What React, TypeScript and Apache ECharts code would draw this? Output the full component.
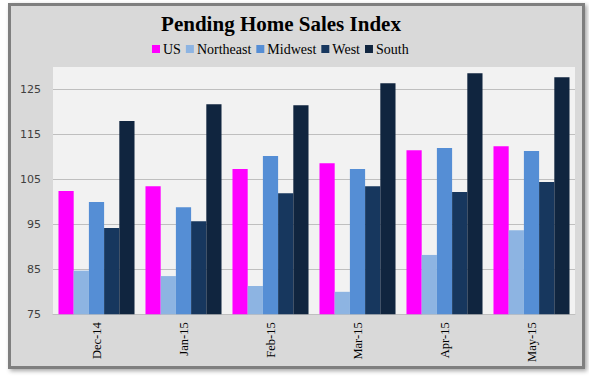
import React, { useEffect, useRef } from "react";
import * as echarts from "echarts";

const categories = ["Dec-14", "Jan-15", "Feb-15", "Mar-15", "Apr-15", "May-15"];
const seriesNames = ["US", "Northeast", "Midwest", "West", "South"];
const usValues = [102.4, 103.5, 107.3, 108.6, 111.5, 112.4];
const northeastValues = [84.7, 83.5, 81.3, 80.0, 88.2, 93.7];
const midwestValues = [100.0, 98.8, 110.2, 107.3, 112.0, 111.3];
const westValues = [94.2, 95.7, 101.9, 103.5, 102.2, 104.4];
const southValues = [118.0, 121.7, 121.5, 126.4, 128.6, 127.7];
const yTickLabels = [75, 85, 95, 105, 115, 125];

const colors = ["#ff00ff", "#8db4e2", "#558ed5", "#17375e", "#10253f"];

export default function App() {
  const ref = useRef<HTMLDivElement>(null);
  useEffect(() => {
    if (!ref.current) return;
    const chart = echarts.init(ref.current, null, { renderer: "svg" });
    const values = [usValues, northeastValues, midwestValues, westValues, southValues];
    chart.setOption({
      animation: false,
      color: colors,
      graphic: [
        {
          type: "rect",
          z: -10,
          silent: true,
          shape: { x: 9.5, y: 4.5, width: 574, height: 363 },
          style: {
            fill: "#d9d9d9",
            stroke: "#7f7f7f",
            lineWidth: 3,
            shadowBlur: 4,
            shadowColor: "rgba(0,0,0,0.35)",
            shadowOffsetX: 2,
            shadowOffsetY: 2,
          },
        },
      ],
      title: {
        text: "Pending Home Sales Index",
        left: 276,
        top: 8,
        textAlign: "center",
        textStyle: {
          fontFamily: "Liberation Serif",
          fontWeight: "bold",
          fontSize: 21,
          color: "#000",
        },
      },
      legend: {
        data: seriesNames,
        left: 152,
        top: 42,
        padding: 0,
        icon: "rect",
        itemWidth: 8,
        itemHeight: 8,
        itemGap: 5,
        textStyle: {
          fontFamily: "Liberation Serif",
          fontSize: 14,
          color: "#000",
          padding: [0, 0, 0, -2],
        },
      },
      grid: {
        left: 53,
        right: 14,
        top: 67,
        bottom: 62.7,
        show: true,
        backgroundColor: "#f2f2f2",
        borderWidth: 0,
      },
      xAxis: {
        type: "category",
        data: categories,
        axisLine: { show: true, lineStyle: { color: "#bfbfbf", width: 1 } },
        axisTick: { show: false },
        axisLabel: {
          rotate: 90,
          margin: 8,
          fontFamily: "Liberation Serif",
          fontSize: 12.5,
          color: "#000",
        },
      },
      yAxis: {
        type: "value",
        min: 75,
        max: 130,
        interval: 5,
        axisLine: { show: false },
        axisTick: { show: false },
        axisLabel: {
          margin: 12,
          fontFamily: "DejaVu Sans",
          fontSize: 11,
          color: "#404040",
          formatter: (v: number) => (yTickLabels.includes(v) ? String(v) : ""),
        },
        splitLine: {
          show: true,
          lineStyle: { color: ["#bfbfbf", "transparent"], width: 1 },
        },
      },
      series: seriesNames.map((name, i) => ({
        name,
        type: "bar",
        data: values[i],
        barGap: "0%",
        barCategoryGap: "12.6%",
        itemStyle: { color: colors[i] },
      })),
    });
    return () => chart.dispose();
  }, []);
  return (
    <div
      ref={ref}
      style={{ position: "absolute", left: 0, top: 0, width: 589, height: 377, background: "#fff" }}
    />
  );
}
